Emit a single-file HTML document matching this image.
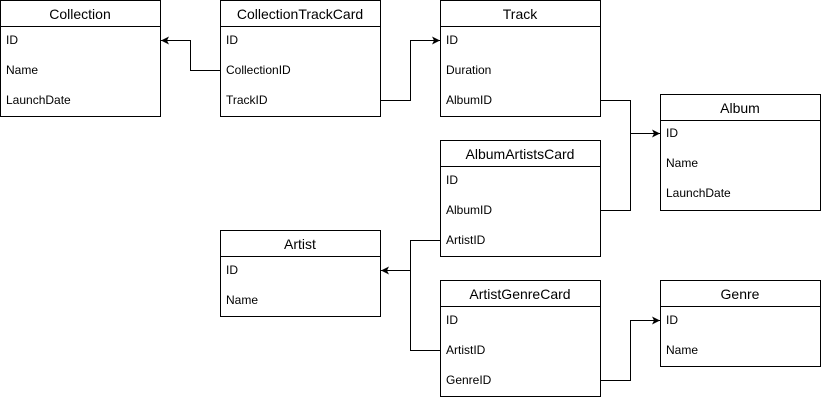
<!DOCTYPE html>
<html><head><meta charset="utf-8"><style>body{margin:0;background:#fff}svg{display:block}</style></head>
<body>
<svg width="821" height="400" xmlns="http://www.w3.org/2000/svg" font-family="Liberation Sans, Arial, sans-serif">
<defs><marker id="a" markerWidth="10" markerHeight="10" refX="9" refY="5" orient="auto" markerUnits="userSpaceOnUse"><path d="M1,1 L9,5 L1,9 L3,5 Z" fill="#000"/></marker></defs>
<g fill="#fff" stroke="#000" stroke-width="1">
<rect x="0.5" y="0.5" width="160" height="116"/><line x1="0.5" y1="26.5" x2="160.5" y2="26.5"/>
<rect x="220.5" y="0.5" width="160" height="116"/><line x1="220.5" y1="26.5" x2="380.5" y2="26.5"/>
<rect x="440.5" y="0.5" width="160" height="116"/><line x1="440.5" y1="26.5" x2="600.5" y2="26.5"/>
<rect x="660.5" y="94.5" width="160" height="116"/><line x1="660.5" y1="120.5" x2="820.5" y2="120.5"/>
<rect x="440.5" y="140.5" width="160" height="116"/><line x1="440.5" y1="166.5" x2="600.5" y2="166.5"/>
<rect x="220.5" y="230.5" width="160" height="86"/><line x1="220.5" y1="256.5" x2="380.5" y2="256.5"/>
<rect x="440.5" y="280.5" width="160" height="116"/><line x1="440.5" y1="306.5" x2="600.5" y2="306.5"/>
<rect x="660.5" y="280.5" width="160" height="86"/><line x1="660.5" y1="306.5" x2="820.5" y2="306.5"/>
</g>
<g fill="none" stroke="#000" stroke-width="1">
<path d="M220.5,70.5 H190.5 V40.5 H161" marker-end="url(#a)"/>
<path d="M380.5,100.5 H410.5 V40.5 H440" marker-end="url(#a)"/>
<path d="M600.5,100.5 H630.5 V133.5 H660" marker-end="url(#a)"/>
<path d="M600.5,210.5 H630.5 V133.5"/>
<path d="M440.5,240.5 H410.5 V270.5 H381" marker-end="url(#a)"/>
<path d="M440.5,350.5 H410.5 V270.5"/>
<path d="M600.5,380.5 H630.5 V320.5 H660" marker-end="url(#a)"/>
</g>
<g font-size="14" text-anchor="middle" fill="#000">
<text x="80" y="19">Collection</text>
<text x="300" y="19">CollectionTrackCard</text>
<text x="520" y="19">Track</text>
<text x="740" y="113">Album</text>
<text x="520" y="159">AlbumArtistsCard</text>
<text x="300" y="249">Artist</text>
<text x="520" y="299">ArtistGenreCard</text>
<text x="740" y="299">Genre</text>
</g>
<g font-size="12" fill="#000">
<text x="6" y="44">ID</text><text x="6" y="74">Name</text><text x="6" y="104">LaunchDate</text>
<text x="226" y="44">ID</text><text x="226" y="74">CollectionID</text><text x="226" y="104">TrackID</text>
<text x="446" y="44">ID</text><text x="446" y="74">Duration</text><text x="446" y="104">AlbumID</text>
<text x="666" y="137">ID</text><text x="666" y="167">Name</text><text x="666" y="197">LaunchDate</text>
<text x="446" y="184">ID</text><text x="446" y="214">AlbumID</text><text x="446" y="244">ArtistID</text>
<text x="226" y="274">ID</text><text x="226" y="304">Name</text>
<text x="446" y="324">ID</text><text x="446" y="354">ArtistID</text><text x="446" y="384">GenreID</text>
<text x="666" y="324">ID</text><text x="666" y="354">Name</text>
</g>
</svg>
</body></html>
